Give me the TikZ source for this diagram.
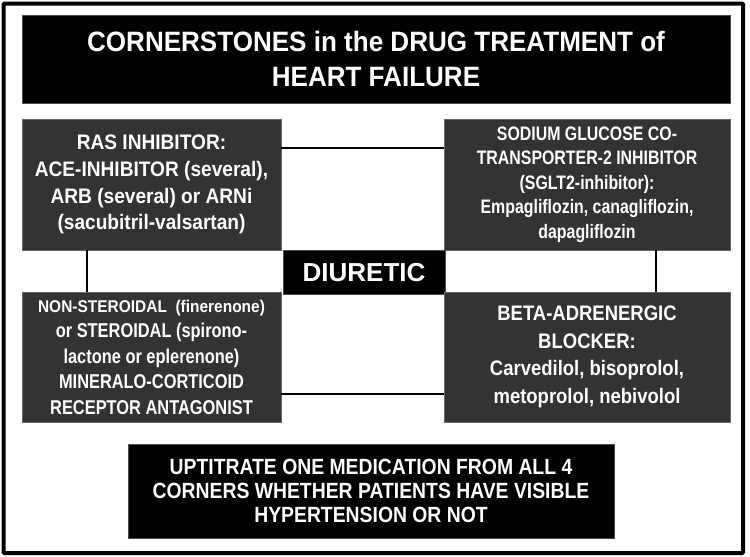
\documentclass[tikz,border=0pt]{standalone}
\usepackage{fontspec}
\setmainfont{Liberation Sans}
\newfontfamily\fttitle[FakeStretch=0.93]{Liberation Sans}
\newfontfamily\ftras[FakeStretch=0.91]{Liberation Sans}
\newfontfamily\ftsglt[FakeStretch=0.815]{Liberation Sans}
\newfontfamily\ftmra[FakeStretch=0.82]{Liberation Sans}
\newfontfamily\ftmrafirst[FakeStretch=0.91]{Liberation Sans}
\newfontfamily\ftbeta[FakeStretch=0.88]{Liberation Sans}
\newfontfamily\ftbottom[FakeStretch=0.88]{Liberation Sans}
\begin{document}
\begin{tikzpicture}[x=1pt,y=-1pt,
  blackbox/.style={fill=black, draw=black!70, line width=0.8pt, text=white, align=center, inner sep=0pt},
  greybox/.style={fill=black!80, draw=black!60, line width=0.8pt, text=white, align=center, inner sep=0pt},
  conn/.style={draw=black, line width=2pt}]
\useasboundingbox (0,0) rectangle (750,557);
\draw[line width=4pt, rounded corners=1pt] (3.5,3.5) rectangle (743,553);
\node[blackbox, minimum width=708pt, minimum height=88pt,
  font=\fontsize{28}{35}\selectfont\fttitle\bfseries] (title) at (376,59)
  {CORNERSTONES in the DRUG TREATMENT of\\HEART FAILURE};
\node[greybox, minimum width=259pt, minimum height=131pt,
  font=\fontsize{21}{26.7}\selectfont\ftras\bfseries] (ras) at (151.5,184.5)
  {RAS INHIBITOR:\\ACE-INHIBITOR (several),\\ARB (several) or ARNi\\(sacubitril-valsartan)};
\node[greybox, minimum width=286pt, minimum height=131pt,
  font=\fontsize{19.5}{24.6}\selectfont\ftsglt\bfseries] (sglt) at (587,184.5)
  {SODIUM GLUCOSE CO-\\TRANSPORTER-2 INHIBITOR\\(SGLT2-inhibitor):\\Empagliflozin, canagliflozin,\\dapagliflozin};
\node[blackbox, minimum width=162pt, minimum height=44pt,
  font=\fontsize{26}{30}\selectfont\bfseries] (diur) at (364,272.5) {DIURETIC};
\node[greybox, minimum width=259pt, minimum height=130pt,
  font=\fontsize{20}{25.5}\selectfont\ftmra\bfseries] (mra) at (151.5,357)
  {{\fontsize{17}{25.5}\selectfont\ftmrafirst\bfseries NON-STEROIDAL\ \ (finerenone)}\\or STEROIDAL (spirono-\\lactone or eplerenone)\\MINERALO-CORTICOID\\RECEPTOR ANTAGONIST};
\node[greybox, minimum width=286pt, minimum height=130pt,
  font=\fontsize{21}{27.5}\selectfont\ftbeta\bfseries] (beta) at (587,357)
  {BETA-ADRENERGIC\\BLOCKER:\\Carvedilol, bisoprolol,\\metoprolol, nebivolol};
\node[blackbox, minimum width=486pt, minimum height=94pt,
  font=\fontsize{22}{23.8}\selectfont\ftbottom\bfseries] (bottom) at (371,491)
  {UPTITRATE ONE MEDICATION FROM ALL 4\\CORNERS WHETHER PATIENTS HAVE VISIBLE\\HYPERTENSION OR NOT};
\draw[conn] ([yshift=-29pt]ras.north east) -- ([yshift=-29pt]sglt.north west);
\draw[conn] ([xshift=65pt]ras.south west) -- ([xshift=65pt]mra.north west);
\draw[conn] ([xshift=212pt]sglt.south west) -- ([xshift=212pt]beta.north west);
\draw[conn] ([yshift=-102pt]mra.north east) -- ([yshift=-102pt]beta.north west);
\end{tikzpicture}
\end{document}
